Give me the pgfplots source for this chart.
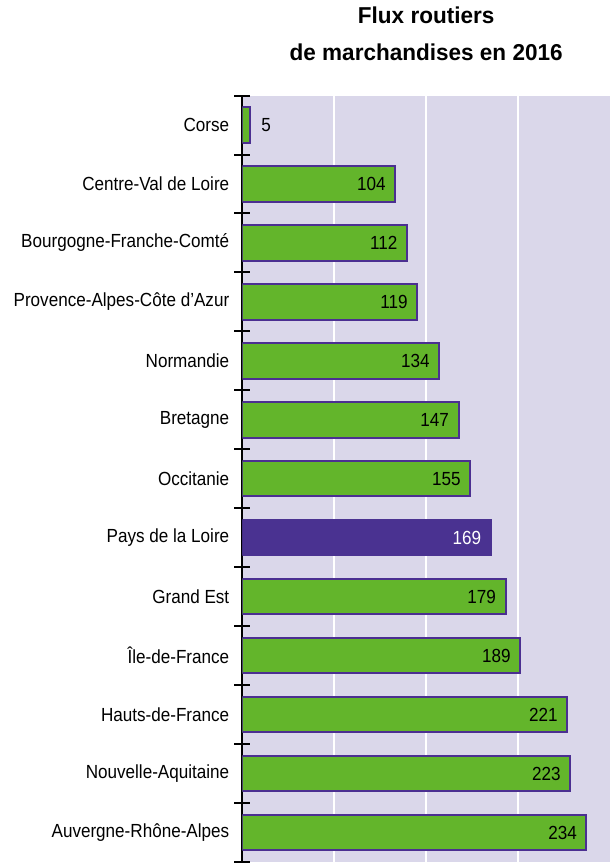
\documentclass[border=0pt]{standalone}
\usepackage{pgfplots}
\pgfplotsset{compat=1.18}
\usepackage{fontspec}
\setmainfont{Liberation Sans}[FakeStretch=0.9]
\newfontfamily\titlefont{Liberation Sans}[FakeStretch=0.98]
\definecolor{barGreen}{HTML}{63B52B}
\definecolor{barEdge}{HTML}{4B2F91}
\definecolor{bgLav}{HTML}{DAD7EA}
\definecolor{hiPurple}{HTML}{4A3291}
\begin{document}
\begin{tikzpicture}
\begin{axis}[
    scale only axis,
    width=184pt, height=383.5pt,
    xbar, bar shift=0pt, bar width=0.6,
    xmin=0, xmax=250,
    ymin=-0.5, ymax=12.5,
    y dir=reverse,
    axis background/.style={fill=bgLav},
    axis y line*=left,
    axis x line*=bottom,
    x axis line style={draw=none},
    y axis line style={draw=black, line width=1pt},
    xtick={62.5,125,187.5},
    xticklabels={},
    xticklabel style={overlay},
    xmajorgrids,
    grid style={white, line width=1pt},
    ytick={0,...,12},
    yticklabels={Corse,Centre-Val de Loire,Bourgogne-Franche-Comté,Provence-Alpes-Côte d'Azur,Normandie,Bretagne,Occitanie,Pays de la Loire,Grand Est,Île-de-France,Hauts-de-France,Nouvelle-Aquitaine,Auvergne-Rhône-Alpes},
    minor ytick={-0.5,0.5,...,12.5},
    major tick length=0pt,
    minor tick length=8pt,
    tick align=center,
    minor y tick style={black, line width=1pt},
    yticklabel style={font=\fontsize{9.5}{10}\selectfont, xshift=-3pt},
    title={Flux routiers\\de marchandises en 2016},
    title style={align=center, font=\titlefont\bfseries\fontsize{11.5}{18.5}\selectfont, yshift=8pt},
    /pgf/number format/assume math mode=true,
    point meta=x,
    nodes near coords,
    every node near coord/.append style={font=\fontsize{9.5}{10}\selectfont},
]
\addplot[fill=barGreen, draw=barEdge, line width=1pt,
    nodes near coords style={anchor=east, black, xshift=-1pt}]
coordinates {(104,1)(112,2)(119,3)(134,4)(147,5)(155,6)(179,8)(189,9)(221,10)(223,11)(234,12)};
\addplot[fill=barGreen, draw=barEdge, line width=1pt,
    nodes near coords style={anchor=west, black, xshift=2pt}]
coordinates {(5,0)};
\addplot[fill=hiPurple, draw=hiPurple, line width=1pt,
    nodes near coords style={anchor=east, white, xshift=-1pt}]
coordinates {(169,7)};
\end{axis}
\path (current bounding box.west) ++(-3.5pt,0);
\end{tikzpicture}
\end{document}
